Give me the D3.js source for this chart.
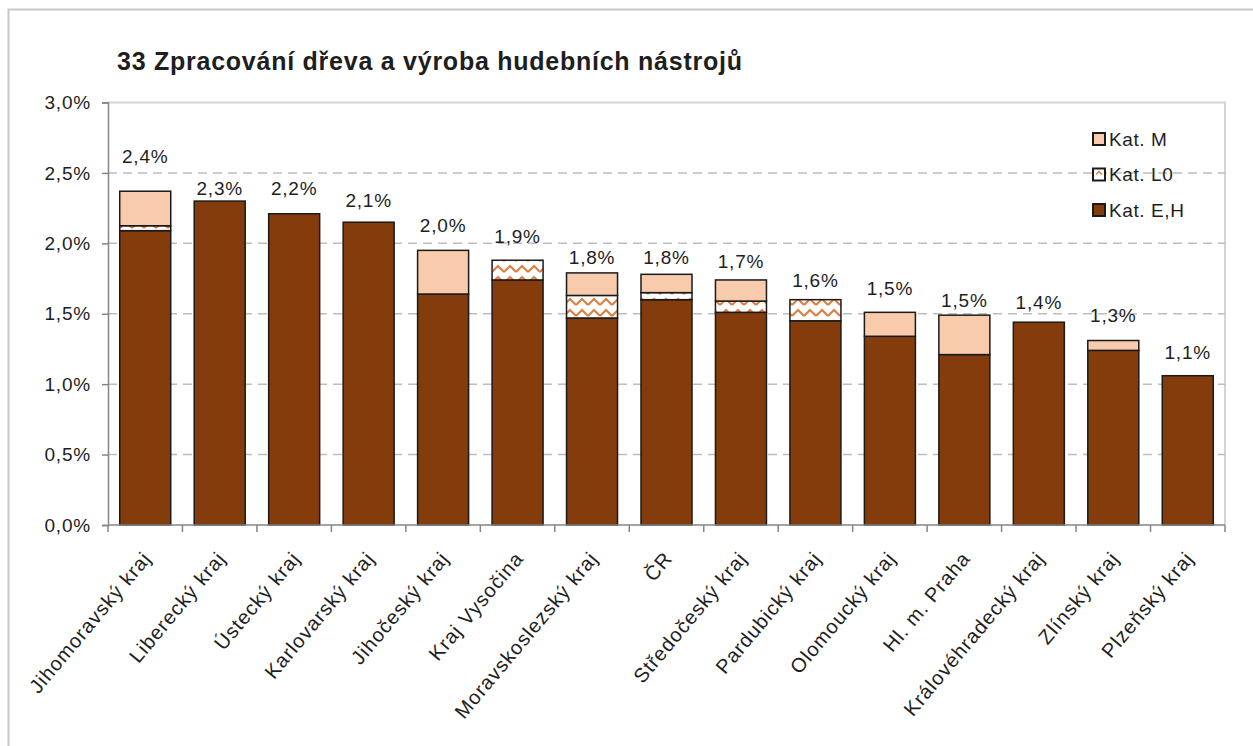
<!DOCTYPE html>
<html>
<head>
<meta charset="utf-8">
<script src="https://cdn.jsdelivr.net/npm/d3@7"></script>
<style>
  body { margin: 0; background: #fff; }
  text { font-family: "Liberation Sans", Arial, sans-serif; fill: #1e1e1e; }
</style>
</head>
<body>
<div id="chart"></div>
<script>
// regions, sorted as in the source chart
var regions = ["Jihomoravský kraj", "Liberecký kraj", "Ústecký kraj", "Karlovarský kraj", "Jihočeský kraj",
  "Kraj Vysočina", "Moravskoslezský kraj", "ČR", "Středočeský kraj", "Pardubický kraj",
  "Olomoucký kraj", "Hl. m. Praha", "Královéhradecký kraj", "Zlínský kraj", "Plzeňský kraj"];
// shares in %
var katEH = [2.09, 2.30, 2.21, 2.15, 1.64, 1.74, 1.47, 1.60, 1.51, 1.45, 1.34, 1.21, 1.44, 1.24, 1.06];
var katL0 = [0.035, 0, 0, 0, 0, 0.14, 0.16, 0.05, 0.08, 0.15, 0, 0, 0, 0, 0];
var katM  = [0.245, 0, 0, 0, 0.31, 0, 0.16, 0.13, 0.15, 0, 0.17, 0.28, 0, 0.07, 0];
// total labels and the hidden series they sit on
var totalLabels = ["2,4%", "2,3%", "2,2%", "2,1%", "2,0%", "1,9%", "1,8%", "1,8%", "1,7%", "1,6%", "1,5%", "1,5%", "1,4%", "1,3%", "1,1%"];
var labelLevel = [2.62, 2.39, 2.39, 2.31, 2.13, 2.05, 1.90, 1.90, 1.87, 1.74, 1.68, 1.60, 1.58, 1.49, 1.23];
var yTicks = [0, 0.5, 1.0, 1.5, 2.0, 2.5, 3.0];
var seriesKeys = ["eh", "l0", "m"];
var seriesNames = {eh: "Kat. E,H", l0: "Kat. L0", m: "Kat. M"};

var W = 1253, H = 746;
var plot = {left: 108, right: 1225, top: 102.5, bottom: 525};
var fmt = function(v) { return v.toFixed(1).replace(".", ",") + "%"; };

var table = regions.map(function(r, i) {
  return {region: r, eh: katEH[i], l0: katL0[i], m: katM[i], label: totalLabels[i], level: labelLevel[i]};
});

var svg = d3.select("#chart").append("svg")
  .attr("width", W).attr("height", H);

// zigzag fill for Kat. L0
var defs = svg.append("defs");
var pat = defs.append("pattern")
  .attr("id", "zig")
  .attr("patternUnits", "userSpaceOnUse")
  .attr("width", 12).attr("height", 11);
pat.append("rect").attr("width", 12).attr("height", 11).attr("fill", "#fff");
pat.append("path")
  .attr("d", "M0,8 L6,2 L12,8")
  .attr("fill", "none")
  .attr("stroke", "#e07c3e")
  .attr("stroke-width", 2);
var fills = {eh: "#843c0c", l0: "url(#zig)", m: "#f8cbad"};

// outer chart border
svg.append("rect")
  .attr("x", 8.5).attr("y", 9.5)
  .attr("width", W).attr("height", H)
  .attr("fill", "none").attr("stroke", "#c8c8c8").attr("stroke-width", 2);

svg.append("text")
  .attr("x", 117).attr("y", 70)
  .attr("font-size", 25).attr("font-weight", "bold")
  .attr("letter-spacing", "0.75px")
  .text("33 Zpracování dřeva a výroba hudebních nástrojů");

var x = d3.scaleBand()
  .domain(regions)
  .range([plot.left, plot.right])
  .paddingInner(0.315)
  .paddingOuter(0.1575);

var y = d3.scaleLinear()
  .domain([0, 3])
  .range([plot.bottom, plot.top]);

// plot area frame (top & right)
svg.append("path")
  .attr("d", "M" + plot.left + "," + plot.top + "H" + plot.right + "V" + plot.bottom)
  .attr("fill", "none").attr("stroke", "#d4d4d4").attr("stroke-width", 2);

// gridlines
svg.append("g").selectAll("line")
  .data(yTicks.filter(function(t) { return t > 0 && t < 3; }))
  .enter().append("line")
  .attr("x1", plot.left).attr("x2", plot.right)
  .attr("y1", function(d) { return y(d); }).attr("y2", function(d) { return y(d); })
  .attr("stroke", "#bdbdbd").attr("stroke-width", 1.5)
  .attr("stroke-dasharray", "9,6");

// stacked bars
var stacked = d3.stack().keys(seriesKeys)(table);
svg.append("g").selectAll("g")
  .data(stacked)
  .enter().append("g")
  .attr("fill", function(s) { return fills[s.key]; })
  .selectAll("rect")
  .data(function(s) { return s.filter(function(d) { return d[1] - d[0] > 0; }); })
  .enter().append("rect")
  .attr("x", function(d) { return x(d.data.region); })
  .attr("width", x.bandwidth())
  .attr("y", function(d) { return y(d[1]); })
  .attr("height", function(d) { return y(d[0]) - y(d[1]); })
  .attr("stroke", "#1a1a1a").attr("stroke-width", 1.5);

// y axis
var yAxis = svg.append("g")
  .attr("transform", "translate(" + plot.left + ",0)")
  .call(d3.axisLeft(y).tickValues(yTicks).tickSize(6).tickPadding(11).tickFormat(fmt));
yAxis.select(".domain").attr("stroke", "#868686").attr("stroke-width", 1.5);
yAxis.selectAll(".tick line").attr("stroke", "#868686").attr("stroke-width", 1.5);
yAxis.selectAll("text")
  .attr("font-size", 19).attr("letter-spacing", "0.8px")
  .attr("fill", "#1e1e1e")
  .style("font-family", "'Liberation Sans', Arial, sans-serif");

// x axis: ticks between categories
var step = x.step();
var bounds = d3.range(regions.length + 1).map(function(i) {
  return plot.left + x.paddingOuter() * step - x.paddingInner() * step / 2 + i * step;
});
svg.append("line")
  .attr("x1", plot.left).attr("x2", plot.right)
  .attr("y1", plot.bottom).attr("y2", plot.bottom)
  .attr("stroke", "#868686").attr("stroke-width", 1.5);
svg.append("g").selectAll("line")
  .data(bounds)
  .enter().append("line")
  .attr("x1", function(d) { return d; }).attr("x2", function(d) { return d; })
  .attr("y1", plot.bottom).attr("y2", plot.bottom + 7)
  .attr("stroke", "#868686").attr("stroke-width", 1.5);

svg.append("g").selectAll("text")
  .data(regions)
  .enter().append("text")
  .attr("transform", function(d) {
    return "translate(" + (x(d) + x.bandwidth() / 2 + 7) + "," + (plot.bottom + 34) + ") rotate(-50)";
  })
  .attr("text-anchor", "end")
  .attr("font-size", 20).attr("letter-spacing", "1px")
  .text(function(d) { return d; });

// total labels
svg.append("g").selectAll("text")
  .data(table)
  .enter().append("text")
  .attr("x", function(d) { return x(d.region) + x.bandwidth() / 2; })
  .attr("y", function(d) { return y(d.level); })
  .attr("dy", "0.36em")
  .attr("text-anchor", "middle")
  .attr("font-size", 19).attr("letter-spacing", "0.8px")
  .text(function(d) { return d.label; });

// legend
var legend = svg.append("g").selectAll("g")
  .data(["m", "l0", "eh"])
  .enter().append("g")
  .attr("transform", function(d, i) { return "translate(1093," + (139 + i * 35.5) + ")"; });
legend.append("rect")
  .attr("x", 0).attr("y", -6)
  .attr("width", 12).attr("height", 12)
  .attr("fill", function(d) { return d == "l0" ? "#fff" : fills[d]; })
  .attr("stroke", "#1a1a1a").attr("stroke-width", 2);
legend.filter(function(d) { return d == "l0"; }).append("path")
  .attr("d", "M3,0 L6,-3 L9,0")
  .attr("fill", "none").attr("stroke", "#e07c3e").attr("stroke-width", 1.5);
legend.append("text")
  .attr("x", 16).attr("y", 0).attr("dy", "0.36em")
  .attr("font-size", 19).attr("letter-spacing", "0.6px")
  .text(function(d) { return seriesNames[d]; });
</script>
</body>
</html>
